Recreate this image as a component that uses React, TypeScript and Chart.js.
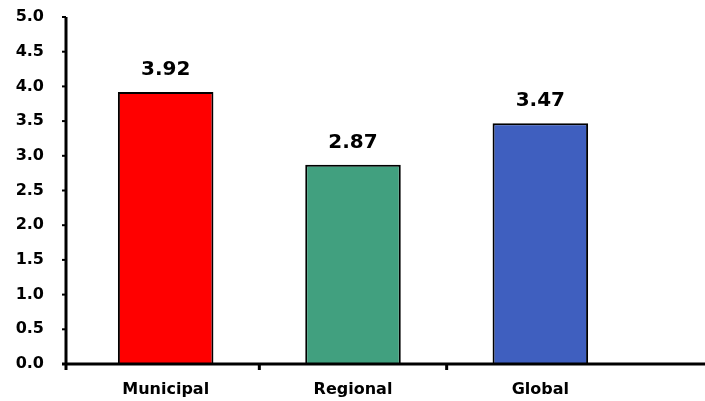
import React, { useEffect, useRef } from "react";
import { Chart, registerables } from "chart.js";

Chart.register(...registerables);

const categories = ["Municipal", "Regional", "Global"];
const values = [3.92, 2.87, 3.47];
const valueLabels = ["3.92", "2.87", "3.47"];
const barColors = ["#FF0000", "#41A07F", "#3F5FBF"];
const yTickValues = [0, 0.5, 1, 1.5, 2, 2.5, 3, 3.5, 4, 4.5, 5];

const FONT = "'DejaVu Sans', sans-serif";

// Axis lines, tick marks and bar value labels
const decorations = {
  id: "decorations",
  afterDatasetsDraw(chart: any) {
    const { ctx, chartArea } = chart;
    const y = chart.scales.y;
    const x = chart.scales.x;
    const axisX = chartArea.left - 6;
    ctx.save();
    ctx.strokeStyle = "#000";
    ctx.lineCap = "butt";

    // y axis line
    ctx.lineWidth = 3;
    ctx.beginPath();
    ctx.moveTo(axisX, chartArea.top);
    ctx.lineTo(axisX, chartArea.bottom + 6);
    ctx.stroke();

    // y tick marks
    ctx.lineWidth = 2;
    yTickValues.forEach((v) => {
      const py = y.getPixelForValue(v);
      ctx.beginPath();
      ctx.moveTo(axisX - 4, py);
      ctx.lineTo(axisX, py);
      ctx.stroke();
    });

    // x axis line
    ctx.lineWidth = 3;
    ctx.beginPath();
    ctx.moveTo(axisX - 4, chartArea.bottom);
    ctx.lineTo(chart.width, chartArea.bottom);
    ctx.stroke();

    // category divider ticks
    for (let i = 0; i < categories.length - 1; i++) {
      const px = (x.getPixelForValue(i) + x.getPixelForValue(i + 1)) / 2;
      ctx.beginPath();
      ctx.moveTo(px, chartArea.bottom);
      ctx.lineTo(px, chartArea.bottom + 6);
      ctx.stroke();
    }

    // value labels
    const meta = chart.getDatasetMeta(0);
    ctx.fillStyle = "#000";
    ctx.font = `bold 20px ${FONT}`;
    ctx.textAlign = "center";
    ctx.textBaseline = "bottom";
    meta.data.forEach((bar: any, i: number) => {
      ctx.fillText(valueLabels[i], bar.x, bar.y - 12);
    });
    ctx.restore();
  },
};

export default function App() {
  const ref = useRef<HTMLCanvasElement | null>(null);

  useEffect(() => {
    if (!ref.current) return;
    const chart = new Chart(ref.current, {
      type: "bar",
      data: {
        labels: categories,
        datasets: [
          {
            data: values,
            backgroundColor: barColors,
            borderColor: "#000",
            borderWidth: 2,
            borderSkipped: "bottom",
            barPercentage: 0.51,
            categoryPercentage: 1,
          },
        ],
      },
      options: {
        responsive: false,
        animation: false,
        layout: { padding: { top: 17, right: 71, left: 0, bottom: 0 } },
        plugins: {
          legend: { display: false },
          tooltip: { enabled: false },
        },
        scales: {
          x: {
            grid: { display: false },
            border: { display: false },
            ticks: {
              color: "#000",
              font: { family: FONT, weight: "bold", size: 16 },
              padding: 8,
            },
            afterFit(scale: any) {
              scale.height = 37;
              scale.paddingLeft = 0;
              scale.paddingRight = 0;
            },
          },
          y: {
            min: 0,
            max: 5,
            grid: { display: false },
            border: { display: false },
            ticks: {
              stepSize: 0.5,
              color: "#000",
              font: { family: FONT, weight: "bold", size: 16 },
              padding: 20,
              callback: (v: any) => Number(v).toFixed(1),
            },
            afterFit(scale: any) {
              scale.width = 72;
              scale.paddingTop = 0;
              scale.paddingBottom = 0;
            },
          },
        },
      },
      plugins: [decorations],
    });
    return () => chart.destroy();
  }, []);

  return (
    <div style={{ position: "absolute", left: 0, top: 0, width: 705, height: 401, background: "#fff" }}>
      <canvas ref={ref} width={705} height={401} />
    </div>
  );
}
